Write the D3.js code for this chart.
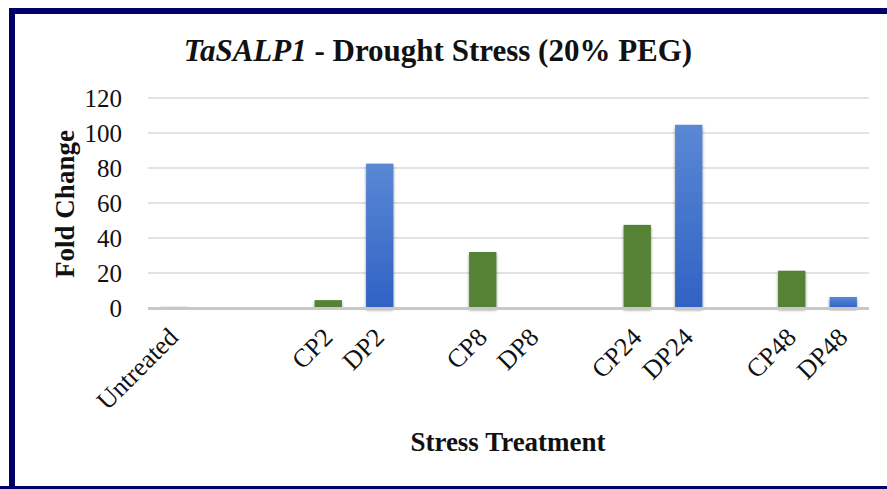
<!DOCTYPE html>
<html>
<head>
<meta charset="utf-8">
<script src="https://cdn.jsdelivr.net/npm/d3@7"></script>
<style>
  body { margin: 0; background: #fff; }
  svg text { font-family: "Liberation Serif", "Times New Roman", serif; fill: #111; }
  .grid line { stroke: #d9d9d9; stroke-width: 1.5; }
</style>
</head>
<body>
<script>
// categories (blank slots are the empty spacer categories of the original sheet)
const categories = ["Untreated", "", "", "CP2", "DP2", "", "CP8", "DP8", "", "CP24", "DP24", "", "CP48", "DP48"];
const foldChange = [1, null, null, 4.5, 82.5, null, 32, 0.5, null, 47.5, 104.7, null, 21.3, 6.3];
const group = ["U", "", "", "C", "D", "", "C", "D", "", "C", "D", "", "C", "D"];
const yTicks = [0, 20, 40, 60, 80, 100, 120];

const W = 887, H = 489;
const margin = { top: 98, right: 18, bottom: 181, left: 148 };

const svg = d3.select("body").append("svg")
    .attr("width", W)
    .attr("height", H);

const defs = svg.append("defs");
const blueGrad = defs.append("linearGradient")
    .attr("id", "blueGrad")
    .attr("x1", 0).attr("y1", 0).attr("x2", 0).attr("y2", 1);
blueGrad.append("stop").attr("offset", "0%").attr("stop-color", "#5a88d4");
blueGrad.append("stop").attr("offset", "100%").attr("stop-color", "#2f62c4");

const shadow = defs.append("filter").attr("id", "shadow")
    .attr("x", "-20%").attr("y", "-20%").attr("width", "140%").attr("height", "140%");
shadow.append("feGaussianBlur").attr("in", "SourceAlpha").attr("stdDeviation", 1.5);
shadow.append("feOffset").attr("dx", 0).attr("dy", 2).attr("result", "blur");
shadow.append("feComponentTransfer").append("feFuncA").attr("type", "linear").attr("slope", 0.45);
const merge = shadow.append("feMerge");
merge.append("feMergeNode");
merge.append("feMergeNode").attr("in", "SourceGraphic");

// frame
svg.append("path")
    .attr("d", `M12,${H + 5} V11 H${W + 5}`)
    .attr("fill", "none")
    .attr("stroke", "#000066")
    .attr("stroke-width", 6);
svg.append("rect")
    .attr("x", 0).attr("y", 486).attr("width", W).attr("height", 3)
    .attr("fill", "#000066");

const x = d3.scaleBand()
    .domain(d3.range(categories.length))
    .range([margin.left, W - margin.right])
    .paddingInner(0.47)
    .paddingOuter(0.235);

const y = d3.scaleLinear()
    .domain([0, 120])
    .range([H - margin.bottom, margin.top]);

// gridlines
svg.append("g")
    .attr("class", "grid")
    .selectAll("line")
    .data(yTicks.filter(d => d > 0))
    .join("line")
    .attr("x1", margin.left)
    .attr("x2", W - margin.right)
    .attr("y1", d => y(d))
    .attr("y2", d => y(d));

// y axis labels
const yAxis = d3.axisLeft(y).tickValues(yTicks).tickSize(0).tickPadding(0);
svg.append("g")
    .attr("transform", `translate(${122},0)`)
    .call(yAxis)
    .call(g => g.select(".domain").remove())
    .call(g => g.selectAll("text")
        .attr("font-size", 25)
        .attr("font-family", "Liberation Serif")
        .attr("fill", "#111")
        .attr("dy", "0.34em"));

// bars
const bars = categories.map((c, i) => ({ i, c, v: foldChange[i], g: group[i] }))
    .filter(d => d.v !== null);

svg.append("g")
    .selectAll("rect")
    .data(bars)
    .join("rect")
    .attr("x", d => x(d.i))
    .attr("width", x.bandwidth())
    .attr("y", d => y(d.v))
    .attr("height", d => y(0) - y(d.v))
    .attr("fill", d => d.g === "C" ? "#548235" : d.g === "D" ? "url(#blueGrad)" : "#e4e4e4")
    .attr("filter", d => d.g === "U" ? null : "url(#shadow)");

// zero axis line
svg.append("line")
    .attr("x1", margin.left)
    .attr("x2", W - margin.right)
    .attr("y1", y(0) + 0.5)
    .attr("y2", y(0) + 0.5)
    .attr("stroke", "#c8c8c8")
    .attr("stroke-width", 3);

// x labels
const xAxis = d3.axisBottom(x).tickFormat(i => categories[i]).tickSize(0).tickPadding(0);
svg.append("g")
    .attr("transform", `translate(0,${y(0)})`)
    .call(xAxis)
    .call(g => g.select(".domain").remove())
    .call(g => g.selectAll("text")
        .attr("font-size", 26)
        .attr("font-family", "Liberation Serif")
        .attr("fill", "#111")
        .attr("text-anchor", "end")
        .attr("transform", "translate(-7,18) rotate(-45)")
        .attr("dy", "0.7em"));

// title
const title = svg.append("text")
    .attr("x", 438)
    .attr("y", 61)
    .attr("text-anchor", "middle")
    .attr("font-size", 31)
    .attr("font-weight", "bold");
title.append("tspan").attr("font-style", "italic").text("TaSALP1");
title.append("tspan").text(" - Drought Stress (20% PEG)");

// axis titles
svg.append("text")
    .attr("transform", `translate(74,204) rotate(-90)`)
    .attr("text-anchor", "middle")
    .attr("font-size", 27)
    .attr("font-weight", "bold")
    .text("Fold Change");

svg.append("text")
    .attr("x", 508)
    .attr("y", 451)
    .attr("text-anchor", "middle")
    .attr("font-size", 27)
    .attr("font-weight", "bold")
    .text("Stress Treatment");
</script>
</body>
</html>
